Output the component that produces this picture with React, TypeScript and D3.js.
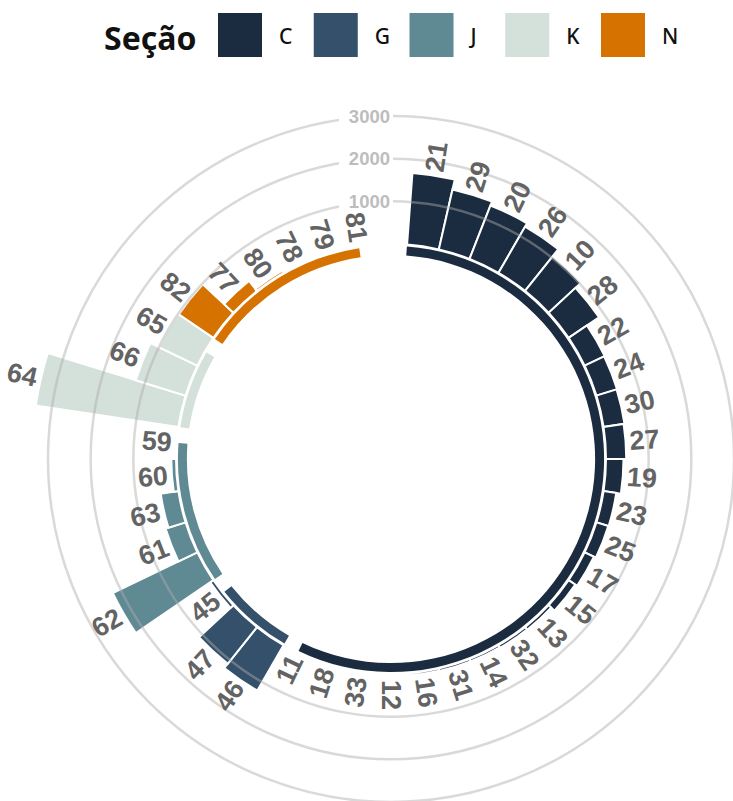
import React from "react";
import * as d3 from "d3";

// sections and colours of the legend
const sections = ["C", "G", "J", "K", "N"];
const sectionColors = ["#1b2c40", "#34506b", "#5f8a94", "#d4e0da", "#d57200"];

// bars per section, in clockwise order
const labelsC = ["21", "29", "20", "26", "10", "28", "22", "24", "30", "27", "19", "23", "25", "17", "15", "13", "32", "14", "31", "16", "12", "33", "18", "11"];
const valuesC = [1680, 1440, 1340, 1250, 1030, 860, 520, 505, 495, 475, 410, 300, 290, 240, 190, 80, 70, 60, 55, 50, 45, 40, 10, 5];
const labelsG = ["46", "47", "45"];
const valuesG = [1230, 1100, 90];
const labelsJ = ["62", "61", "63", "60", "59"];
const valuesJ = [2200, 490, 420, 110, 20];
const labelsK = ["64", "66", "65"];
const valuesK = [3380, 1220, 1000];
const labelsN = ["82", "77", "80", "78", "79", "81"];
const valuesN = [980, 300, 60, 25, 15, 10];

const gridTicks = [1000, 2000, 3000];

const sectionLabels = [labelsC, labelsG, labelsJ, labelsK, labelsN];
const sectionValues = [valuesC, valuesG, valuesJ, valuesK, valuesN];

const W = 733;
const H = 801;
const cx = 391;
const cy = 459;

const App = () => {
  const bars = sections.flatMap((s, i) =>
    sectionLabels[i].map((l, j) => ({ label: l, value: sectionValues[i][j], section: s }))
  );

  // one empty slot at the top
  const n = bars.length + 1;
  const step = (2 * Math.PI) / n;
  const x = d3
    .scaleBand()
    .domain(["gap", ...bars.map((b) => b.label)])
    .range([-step / 2, 2 * Math.PI - step / 2])
    .padding(0);
  const bw = x.bandwidth();

  const y = d3.scaleLinear().domain([0, 3000]).range([215, 343]);
  const color = d3.scaleOrdinal<string, string>().domain(sections).range(sectionColors);

  const barArc = d3
    .arc<any>()
    .innerRadius(y(0))
    .outerRadius((d) => y(d.value))
    .startAngle((d) => x(d.label)!)
    .endAngle((d) => x(d.label)! + bw);

  // base line under each section: from the first bar's edge to the last bar's centre
  const bands = sections.map((s, i) => {
    const ls = sectionLabels[i];
    return {
      section: s,
      start: x(ls[0])!,
      end: x(ls[ls.length - 1])! + bw / 2,
    };
  });

  const bandArc = d3
    .arc<any>()
    .innerRadius(y(-255))
    .outerRadius(y(-45))
    .startAngle((d) => d.start)
    .endAngle((d) => d.end);

  const legendX = 218;
  const legendStep = 95.75;

  return (
    <svg
      width={W}
      height={H}
      style={{ position: "absolute", left: 0, top: 0, background: "#fff" }}
    >
      {/* legend */}
      <g>
        <text
          x={104}
          y={37}
          dominantBaseline="central"
          fontFamily="Noto Sans"
          fontWeight={700}
          fontSize={32}
          fill="#111"
        >
          Seção
        </text>
        {sections.map((s, i) => (
          <g key={s} transform={`translate(${legendX + i * legendStep},13)`}>
            <rect width={44} height={44} fill={color(s)} />
            <text
              x={61}
              y={23}
              dominantBaseline="central"
              fontFamily="Noto Sans"
              fontWeight={500}
              fontSize={21}
              fill="#111"
            >
              {s}
            </text>
          </g>
        ))}
      </g>

      <g transform={`translate(${cx},${cy})`}>
        {bands.map((b) => (
          <path key={"band" + b.section} d={bandArc(b)!} fill={color(b.section)} />
        ))}
        {bars.map((b) => (
          <path
            key={"bar" + b.label}
            d={barArc(b)!}
            fill={color(b.section)}
            stroke="#fff"
            strokeWidth={2}
          />
        ))}
        {gridTicks.map((t) => (
          <circle
            key={"grid" + t}
            r={y(t)}
            fill="none"
            stroke="#adadad"
            strokeOpacity={0.46}
            strokeWidth={2.5}
          />
        ))}
        {gridTicks.map((t) => (
          <g key={"gl" + t}>
            <rect x={-52} y={-y(t) - 9} width={54} height={18} fill="#fff" />
            <text
              x={-1}
              y={-y(t)}
              textAnchor="end"
              dominantBaseline="central"
              fontFamily="Liberation Sans"
              fontWeight={700}
              fontSize={18.5}
              fill="#bdbdbd"
            >
              {t}
            </text>
          </g>
        ))}
        {bars.map((b) => {
          const a = x(b.label)! + bw / 2;
          const deg = (a * 180) / Math.PI;
          const r = y(b.value) + 4;
          const px = r * Math.sin(a);
          const py = -r * Math.cos(a);
          const right = deg <= 180.001;
          const rot = right ? deg - 90 : deg + 90;
          return (
            <text
              key={"lab" + b.label}
              transform={`translate(${px},${py}) rotate(${rot})`}
              textAnchor={right ? "start" : "end"}
              dominantBaseline="central"
              fontFamily="Liberation Sans"
              fontWeight={700}
              fontSize={27}
              fill="#636363"
            >
              {b.label}
            </text>
          );
        })}
      </g>
    </svg>
  );
};

export default App;
